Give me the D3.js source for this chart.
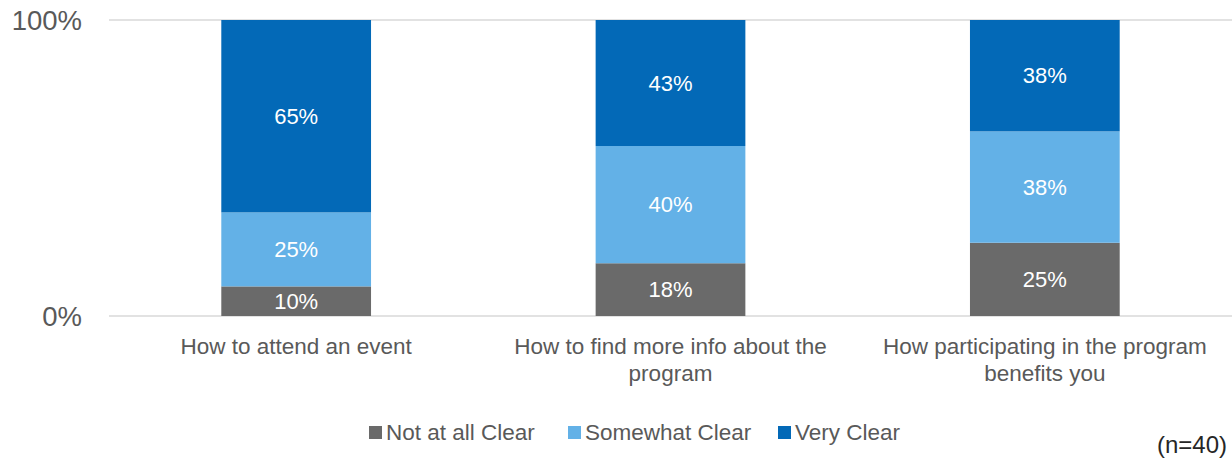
<!DOCTYPE html>
<html>
<head>
<meta charset="utf-8">
<script src="https://cdn.jsdelivr.net/npm/d3@7"></script>
<style>
  html, body { margin: 0; padding: 0; background: #ffffff; }
  svg { display: block; font-family: "Liberation Sans", Arial, sans-serif; }
</style>
</head>
<body>
<svg id="chart" width="1232" height="461"></svg>
<script>
// Survey question categories
const categories = [
  "How to attend an event",
  "How to find more info about the program",
  "How participating in the program benefits you"
];
// Response series (stacked bottom to top)
const seriesNames = ["Not at all Clear", "Somewhat Clear", "Very Clear"];
const notAtAllClear = [10, 18, 25];
const somewhatClear = [25, 40, 38];
const veryClear = [65, 43, 38];
const seriesColors = ["#6a6a6a", "#63b1e7", "#0369b7"];
const yTicks = [0, 1];
const sampleNote = "(n=40)";

const rows = categories.map((c, i) => ({
  category: c,
  [seriesNames[0]]: notAtAllClear[i],
  [seriesNames[1]]: somewhatClear[i],
  [seriesNames[2]]: veryClear[i]
}));

const svg = d3.select("#chart");
const plotLeft = 109, plotRight = 1232, plotTop = 20, plotBottom = 316;

const x = d3.scaleBand().domain(categories).range([plotLeft, plotRight])
  .paddingInner(0.6).paddingOuter(0.3);
const y = d3.scaleLinear().domain([0, 1]).range([plotBottom, plotTop]);
const color = d3.scaleOrdinal().domain(seriesNames).range(seriesColors);

// 100% stacked layout
const stacked = d3.stack().keys(seriesNames).offset(d3.stackOffsetExpand)(rows);

// Gridlines
svg.append("g").selectAll("line").data(yTicks).join("line")
  .attr("x1", plotLeft).attr("x2", plotRight)
  .attr("y1", d => y(d)).attr("y2", d => y(d))
  .attr("stroke", "#d9d9d9").attr("stroke-width", 1.4);

// Y axis labels
const yAxis = d3.axisLeft(y).tickValues(yTicks).tickFormat(d3.format(".0%")).tickSize(0).tickPadding(0);
const yg = svg.append("g").attr("transform", `translate(${plotLeft - 27},0)`).call(yAxis);
yg.select(".domain").remove();
yg.selectAll("text").attr("fill", "#595959").style("font-size", "27.5px")
  .style("font-family", "'Liberation Sans', Arial, sans-serif").attr("dy", "0.35em");

// Bars
const layers = svg.append("g").selectAll("g").data(stacked).join("g")
  .attr("fill", d => color(d.key));
layers.selectAll("rect").data(d => d).join("rect")
  .attr("x", d => x(d.data.category))
  .attr("width", x.bandwidth())
  .attr("y", d => y(d[1]))
  .attr("height", d => y(d[0]) - y(d[1]));

// Value labels
const labels = svg.append("g").selectAll("g").data(stacked).join("g");
labels.selectAll("text").data(d => d.map(v => ({ v, key: d.key }))).join("text")
  .attr("x", d => x(d.v.data.category) + x.bandwidth() / 2)
  .attr("y", d => (y(d.v[0]) + y(d.v[1])) / 2)
  .attr("dy", "0.35em")
  .attr("text-anchor", "middle")
  .attr("fill", "#ffffff")
  .style("font-size", "22px")
  .text(d => d.v.data[d.key] + "%");

// Category labels with wrapping
const xAxis = d3.axisBottom(x).tickSize(0).tickPadding(0);
const xg = svg.append("g").attr("transform", `translate(0,${plotBottom + 38})`).call(xAxis);
xg.select(".domain").remove();
xg.selectAll("text").attr("fill", "#595959").style("font-size", "22.5px")
  .style("font-family", "'Liberation Sans', Arial, sans-serif")
  .attr("dy", null).attr("y", 0)
  .each(function() {
    const t = d3.select(this);
    const words = t.text().split(/\s+/);
    t.text(null);
    let line = [], lineNo = 0;
    let tspan = t.append("tspan").attr("x", 0).attr("y", 0);
    for (const w of words) {
      line.push(w);
      tspan.text(line.join(" "));
      if (tspan.node().getComputedTextLength() > 345 && line.length > 1) {
        line.pop();
        tspan.text(line.join(" "));
        line = [w];
        lineNo++;
        tspan = t.append("tspan").attr("x", 0).attr("y", lineNo * 27).text(w);
      }
    }
  });

// Legend
const legendItems = [
  { key: seriesNames[0], x: 369 },
  { key: seriesNames[1], x: 568 },
  { key: seriesNames[2], x: 778 }
];
const lg = svg.append("g").selectAll("g").data(legendItems).join("g")
  .attr("transform", d => `translate(${d.x},426)`);
lg.append("rect").attr("width", 13).attr("height", 13).attr("fill", d => color(d.key));
lg.append("text").attr("x", 17).attr("y", 6.5).attr("dy", "0.35em")
  .attr("fill", "#595959").style("font-size", "22.5px").text(d => d.key);

// Sample size note
svg.append("text").attr("x", 1227).attr("y", 453).attr("text-anchor", "end")
  .attr("fill", "#262626").style("font-size", "24px").text(sampleNote);
</script>
</body>
</html>
